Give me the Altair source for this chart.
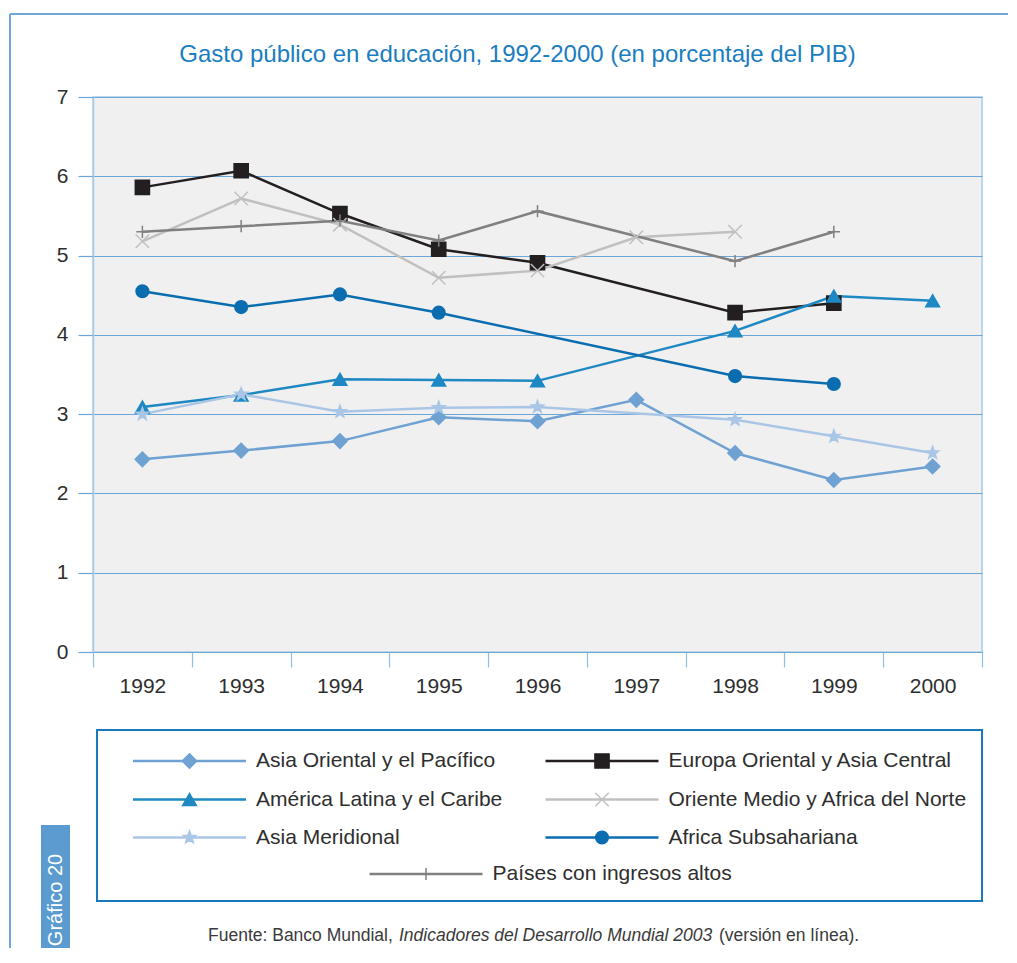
import altair as alt
import pandas as pd

# ---------------- data ----------------
YEARS = ["1992", "1993", "1994", "1995", "1996", "1997", "1998", "1999", "2000"]
SERIES = [
    "Asia Oriental y el Pacífico",
    "Europa Oriental y Asia Central",
    "América Latina y el Caribe",
    "Oriente Medio y Africa del Norte",
    "Asia Meridional",
    "Africa Subsahariana",
    "Países con ingresos altos",
]
ASIA_ORIENTAL = [2.43, 2.54, 2.66, 2.96, 2.91, 3.18, 2.51, 2.17, 2.34]
EUROPA_ORIENTAL = [5.86, 6.07, 5.53, 5.08, 4.91, None, 4.28, 4.40, None]
AMERICA_LATINA = [3.09, 3.24, 3.44, 3.43, 3.42, None, 4.05, 4.49, 4.43]
ORIENTE_MEDIO = [5.18, 5.72, 5.39, 4.72, 4.81, 5.23, 5.30, None, None]
ASIA_MERIDIONAL = [3.00, 3.25, 3.03, 3.08, 3.09, None, 2.93, 2.72, 2.51]
AFRICA_SUB = [4.55, 4.35, 4.51, 4.28, None, None, 3.48, 3.38, None]
INGRESOS_ALTOS = [5.30, 5.37, 5.44, 5.19, 5.56, None, 4.93, 5.30, None]
VALUES = [ASIA_ORIENTAL, EUROPA_ORIENTAL, AMERICA_LATINA, ORIENTE_MEDIO,
          ASIA_MERIDIONAL, AFRICA_SUB, INGRESOS_ALTOS]
Y_TICKS = [0, 1, 2, 3, 4, 5, 6, 7]

TITLE = "Gasto público en educación, 1992-2000 (en porcentaje del PIB)"
SOURCE_1 = "Fuente: Banco Mundial, "
SOURCE_2 = "Indicadores del Desarrollo Mundial 2003"
SOURCE_3 = "(versión en línea)."
SIDE_LABEL = "Gráfico 20"

# ---------------- styles ----------------
COLORS = ["#6fa2d2", "#231f20", "#1e88c3", "#c0c0c0", "#aac6e6", "#0a6db0", "#808080"]
STAR = ("M0,-1L0.24,-0.33L0.951,-0.309L0.39,0.127L0.588,0.809L0,0.41L-0.588,0.809"
        "L-0.39,0.127L-0.951,-0.309L-0.24,-0.33Z")
XMARK = "M-1,-1L1,1M-1,1L1,-1"
PLUS = "M-1,0L1,0M0,-1L0,1"
SHAPES = ["diamond", "square", "triangle-up", XMARK, STAR, "circle", PLUS]
SIZES = [210, 150, 225, 240, 270, 160, 170]
FONT = "Liberation Sans"
GRID = "#6aa6d8"
TEXT = "#2e2e2e"

W, H = 889, 555

rows = []
for s, vals in zip(SERIES, VALUES):
    for yr, v in zip(YEARS, vals):
        if v is not None:
            rows.append({"series": s, "year": yr, "value": v})
df = pd.DataFrame(rows)

# legend layout (pixel positions relative to plot origin)
LEG_CENTER_X = {0: 96.5, 1: 509.0, 2: 333.0}
LEG_ROW_Y = [664, 702.5, 740.5, 777]
LEG_COL = [0, 1, 0, 1, 0, 1, 2]
LEG_ROW = [0, 0, 1, 1, 2, 2, 3]
leg = pd.DataFrame({
    "series": SERIES,
    "mx": [LEG_CENTER_X[c] for c in LEG_COL],
    "ly": [LEG_ROW_Y[r] for r in LEG_ROW],
})
leg["lx1"] = leg["mx"] - 56.5
leg["lx2"] = leg["mx"] + 56.5
leg["tx"] = leg["mx"] + 66.5

one = pd.DataFrame({"k": [0]})

color_scale = alt.Scale(domain=SERIES, range=COLORS)
shape_scale = alt.Scale(domain=SERIES, range=SHAPES)
size_scale = alt.Scale(domain=SERIES, range=SIZES)

x_enc = alt.X(
    "year:O",
    scale=alt.Scale(type="band", domain=YEARS, paddingInner=0, paddingOuter=0),
    bandPosition=0.5,
    axis=alt.Axis(title=None, tickBand="extent", labelAngle=0, grid=False,
                  domainColor=GRID, domainWidth=1.2, tickColor="#8fbde5",
                  tickWidth=1.2, tickSize=15, labelPadding=8,
                  labelFont=FONT, labelFontSize=21, labelColor=TEXT),
)
y_enc = alt.Y(
    "value:Q",
    scale=alt.Scale(domain=[0, 7], nice=False),
    axis=alt.Axis(title=None, values=Y_TICKS, grid=True, gridColor=GRID,
                  gridWidth=1.2, domainColor="#a8cbe8", domainWidth=1.5,
                  tickColor=GRID, tickWidth=1.2, tickSize=15, labelPadding=10,
                  labelFont=FONT, labelFontSize=21, labelColor=TEXT),
)

lines = alt.Chart(df).mark_line(strokeWidth=2.5).encode(
    x=x_enc, y=y_enc,
    color=alt.Color("series:N", scale=color_scale, legend=None),
    detail="series:N",
)
points = alt.Chart(df).mark_point(filled=True, opacity=1, strokeWidth=1.5).encode(
    x=x_enc, y=y_enc,
    fill=alt.Fill("series:N", scale=color_scale, legend=None),
    stroke=alt.Stroke("series:N", scale=color_scale, legend=None),
    shape=alt.Shape("series:N", scale=shape_scale, legend=None),
    size=alt.Size("series:N", scale=size_scale, legend=None),
)

# decorations
frame_top = alt.Chart(one).mark_rule(color="#6fa7d9", strokeWidth=2).encode(
    x=alt.value(-83), x2=alt.value(915), y=alt.value(-83))
frame_left = alt.Chart(one).mark_rule(color="#6fa7d9", strokeWidth=2).encode(
    x=alt.value(-83), y=alt.value(-83), y2=alt.value(851))
side_box = alt.Chart(one).mark_rect(color="#5b9bd0").encode(
    x=alt.value(-52), x2=alt.value(-23), y=alt.value(728), y2=alt.value(851))
side_text = alt.Chart(one).mark_text(
    text=SIDE_LABEL, angle=270, color="white", font=FONT, fontSize=20,
    align="center", baseline="middle").encode(x=alt.value(-37.5), y=alt.value(803))
title = alt.Chart(one).mark_text(
    text=TITLE, color="#1a7dc0", font=FONT, fontSize=24,
    align="center", baseline="middle").encode(x=alt.value(424.5), y=alt.value(-42))
leg_box = alt.Chart(one).mark_rect(fill="transparent", stroke="#1a79bd", strokeWidth=2).encode(
    x=alt.value(4), x2=alt.value(889), y=alt.value(633), y2=alt.value(804))

leg_lines = alt.Chart(leg).mark_rule(strokeWidth=2.5).encode(
    x=alt.X("lx1:Q", scale=None, axis=None),
    x2="lx2:Q",
    y=alt.Y("ly:Q", scale=None, axis=None),
    color=alt.Color("series:N", scale=color_scale, legend=None),
)
leg_points = alt.Chart(leg).mark_point(filled=True, opacity=1, strokeWidth=1.5).encode(
    x=alt.X("mx:Q", scale=None, axis=None),
    y=alt.Y("ly:Q", scale=None, axis=None),
    fill=alt.Fill("series:N", scale=color_scale, legend=None),
    stroke=alt.Stroke("series:N", scale=color_scale, legend=None),
    shape=alt.Shape("series:N", scale=shape_scale, legend=None),
    size=alt.Size("series:N", scale=size_scale, legend=None),
)
leg_text = alt.Chart(leg).mark_text(
    align="left", baseline="middle", font=FONT, fontSize=21, color=TEXT).encode(
    x=alt.X("tx:Q", scale=None, axis=None),
    y=alt.Y("ly:Q", scale=None, axis=None),
    text="series:N",
)

src1 = alt.Chart(one).mark_text(text=SOURCE_1, align="left", baseline="middle",
                                font=FONT, fontSize=17.5, color="#3a3a3a").encode(
    x=alt.value(115), y=alt.value(839))
src2 = alt.Chart(one).mark_text(text=SOURCE_2, align="left", baseline="middle",
                                font=FONT, fontSize=17.5, fontStyle="italic",
                                color="#3a3a3a").encode(
    x=alt.value(306), y=alt.value(839))
src3 = alt.Chart(one).mark_text(text=SOURCE_3, align="left", baseline="middle",
                                font=FONT, fontSize=17.5, color="#3a3a3a").encode(
    x=alt.value(626), y=alt.value(839))

chart = alt.layer(
    frame_top, frame_left, side_box, side_text, title, leg_box,
    lines, points, leg_lines, leg_points, leg_text, src1, src2, src3,
).properties(
    width=W, height=H,
    padding={"left": 1, "top": 5, "right": 0, "bottom": 0},
).configure_view(
    fill="#f0f0f0", stroke="#a8cbe8", strokeWidth=1.5,
)

chart.save("out.html", embed_options={"renderer": "svg", "actions": False})
